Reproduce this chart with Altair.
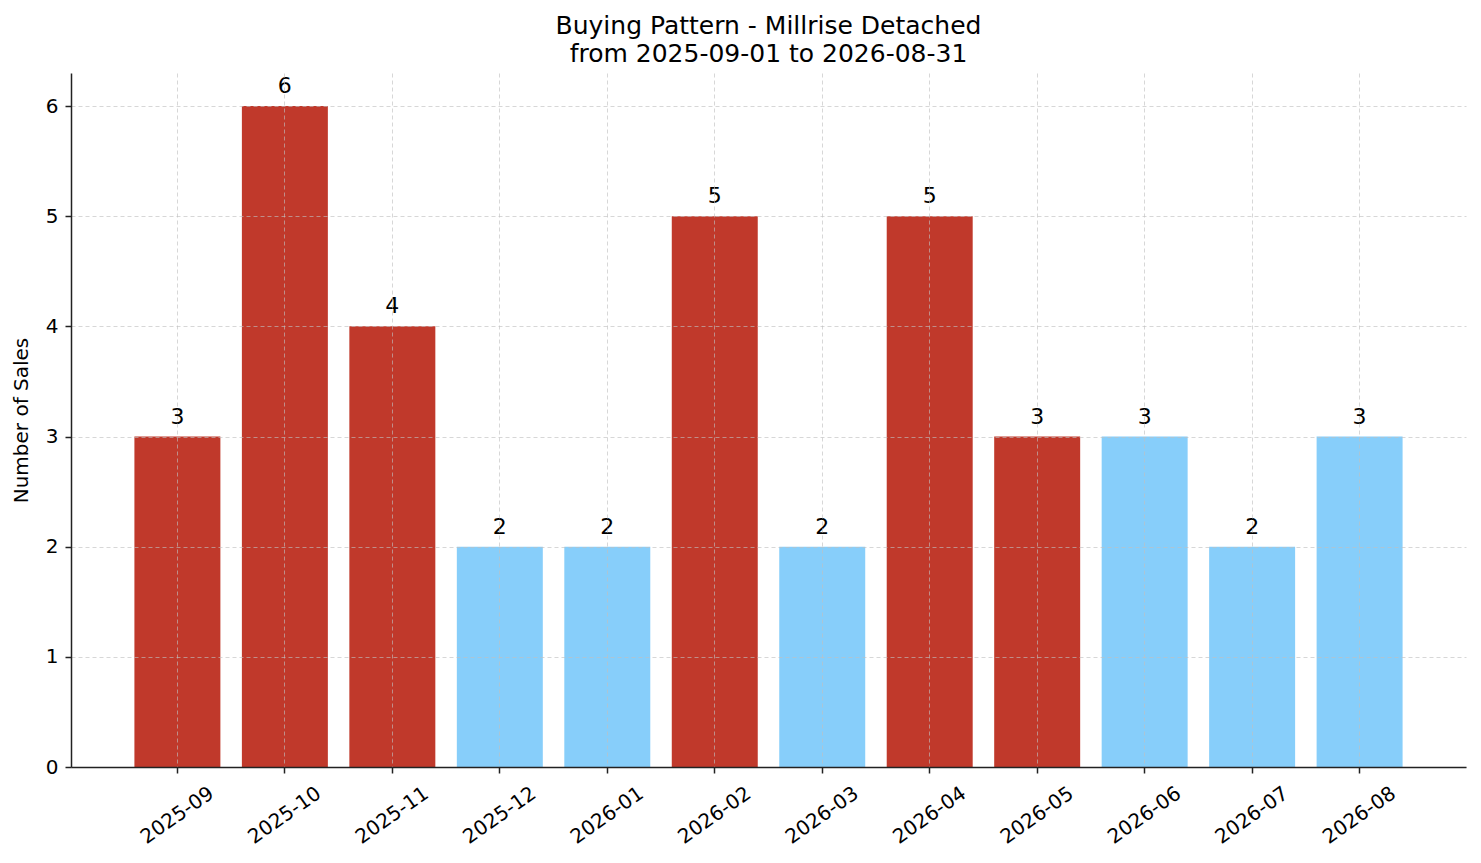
import altair as alt
import pandas as pd

# values
months = [
    "2025-09", "2025-10", "2025-11", "2025-12", "2026-01", "2026-02",
    "2026-03", "2026-04", "2026-05", "2026-06", "2026-07", "2026-08",
]
sales = [3, 6, 4, 2, 2, 5, 2, 5, 3, 3, 2, 3]
highlight = ["hot", "hot", "hot", "cool", "cool", "hot",
             "cool", "hot", "hot", "cool", "cool", "cool"]

RED = "#C0392B"
BLUE = "#87CEFA"
FONT = "DejaVu Sans"

df = pd.DataFrame({"month": months, "sales": sales, "group": highlight})

_grid = dict(
    grid=True,
    gridColor="#c0c0c0",
    gridDash=[4, 3],
    gridWidth=0.8,
    gridOpacity=0.8,
)
_ticks = dict(
    tickSize=6,
    tickColor="#222222",
    tickWidth=1.5,
    domainColor="#222222",
    domainWidth=1.5,
    labelFontSize=20,
    labelColor="#000000",
    labelFont=FONT,
    zindex=1,
)

x_enc = alt.X(
    "month:N",
    sort=months,
    title=None,
    scale=alt.Scale(paddingInner=0.2, paddingOuter=0.59),
    axis=alt.Axis(
        labelAngle=325,
        labelAlign="center",
        labelBaseline="middle",
        labelPadding=42,
        bandPosition=0.5,
        **_ticks,
        **_grid,
    ),
)

y_enc = alt.Y(
    "sales:Q",
    title="Number of Sales",
    scale=alt.Scale(domain=[0, 6.3], nice=False),
    axis=alt.Axis(
        values=[0, 1, 2, 3, 4, 5, 6],
        format="d",
        labelPadding=7,
        titleFontSize=20,
        titleFont=FONT,
        titleFontWeight="normal",
        titleColor="#000000",
        titlePadding=14,
        **_ticks,
        **_grid,
    ),
)

bars = alt.Chart(df).mark_bar().encode(
    x=x_enc,
    y=y_enc,
    color=alt.Color(
        "group:N",
        scale=alt.Scale(domain=["hot", "cool"], range=[RED, BLUE]),
        legend=None,
    ),
)

labels = alt.Chart(df).mark_text(
    baseline="alphabetic", dy=-13, fontSize=22, font=FONT, color="#000000"
).encode(
    x=alt.X("month:N", sort=months),
    y=alt.Y("sales:Q"),
    text=alt.Text("sales:Q", format="d"),
)

chart = (
    alt.layer(bars, labels)
    .properties(
        width=1395,
        height=694,
        autosize=alt.AutoSizeParams(type="none"),
        padding={"left": 63, "top": 65, "right": 7, "bottom": 88},
        title=alt.TitleParams(
            ["Buying Pattern - Millrise Detached", "from 2025-09-01 to 2026-08-31"],
            fontSize=25,
            fontWeight="normal",
            font=FONT,
            color="#000000",
            lineHeight=28,
            offset=6,
            anchor="middle",
        ),
    )
    .configure(font=FONT)
    .configure_view(stroke=None)
)

chart.save("out.html", embed_options={"renderer": "svg", "actions": False})
